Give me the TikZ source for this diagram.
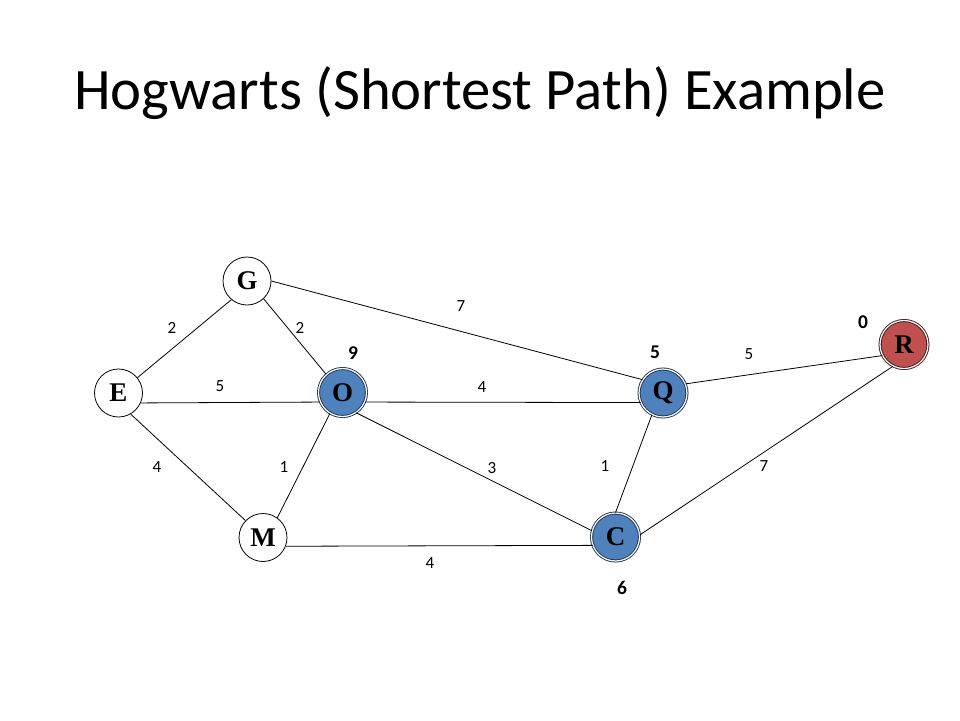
\documentclass[tikz,border=0pt]{standalone}
\usepackage{fontspec}
\setmainfont{Carlito}
\newfontfamily\letterfont{Liberation Serif}
\definecolor{doneblue}{HTML}{4F81BD}
\definecolor{doneedge}{HTML}{1F3550}
\definecolor{startred}{HTML}{C0504D}
\definecolor{startedge}{HTML}{3A1A19}
\begin{document}
\begin{tikzpicture}[x=1pt,y=-1pt]
  \tikzset{
    vertex/.style={draw, circle, minimum size=48pt, inner sep=0pt, line width=0.8pt,
      font=\letterfont\bfseries\fontsize{27}{27}\selectfont},
    done/.style={vertex, fill=doneblue, draw=doneedge, double=white, double distance=1.2pt, line width=0.9pt},
    start/.style={done, fill=startred, draw=startedge},
    edge/.style={line width=0.8pt},
    weight/.style={font=\fontsize{17}{17}\selectfont, inner sep=0pt},
    dist/.style={font=\bfseries\fontsize{19.5}{19.5}\selectfont, inner sep=0pt}
  }
  \useasboundingbox[fill=white] (0,0) rectangle (960,720);

  % Title
  \node[anchor=base, font=\fontsize{58.7}{60}\selectfont] (title) at (480,109) {Hogwarts (Shortest Path) Example};

  % Vertices
  \node[vertex] (G) at (247,281) {G};
  \node[vertex] (E) at (118.5,393) {E};
  \node[done]   (O) at (342.5,392.5) {O};
  \node[done]   (Q) at (663,393) {Q};
  \node[start]  (R) at (904,344.5) {R};
  \node[vertex] (M) at (263,537.5) {M};
  \node[done]   (C) at (615.5,537) {C};

  % Edges
  \draw[edge] (E.39) -- (G.230);
  \draw[edge] (G.313) -- (O.132);
  \draw[edge] (G.east) -- (Q.147);
  \draw[edge] (E.336) -- (O.203);
  \draw[edge] (O.337) -- (Q.203);
  \draw[edge] (Q.22) -- (R.207);
  \draw[edge] (E.300) -- (M.136);
  \draw[edge] (O.239) -- (M.54);
  \draw[edge] (O.304) -- (C.165);
  \draw[edge] (Q.243) -- (C.90);
  \draw[edge] (C.5) -- (R.243);
  \draw[edge] (M.339) -- (C.200);

  % Edge weights
  \node[weight] (wEG) at (172,328) {2};
  \node[weight] (wGO) at (300,328) {2};
  \node[weight] (wGQ) at (461,306) {7};
  \node[weight] (wEO) at (220,386) {5};
  \node[weight] (wOQ) at (482,387) {4};
  \node[weight] (wQR) at (749,354) {5};
  \node[weight] (wEM) at (157,467) {4};
  \node[weight] (wOM) at (284,467) {1};
  \node[weight] (wOC) at (492,468) {3};
  \node[weight] (wQC) at (605,466) {1};
  \node[weight] (wCR) at (764,466) {7};
  \node[weight] (wMC) at (430,563) {4};

  % Distances
  \node[dist] (dO) at (353,353) {9};
  \node[dist] (dQ) at (655,352) {5};
  \node[dist] (dR) at (863,322) {0};
  \node[dist] (dC) at (622,588) {6};
\end{tikzpicture}
\end{document}
